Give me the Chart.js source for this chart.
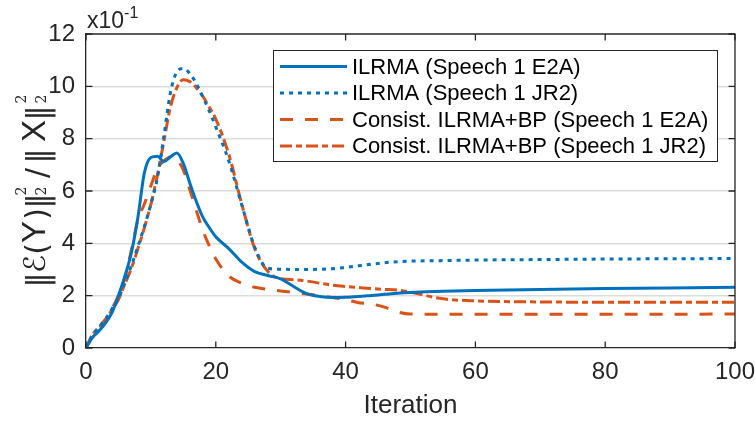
<!DOCTYPE html>
<html>
<head>
<meta charset="utf-8">
<script src="https://cdn.jsdelivr.net/npm/chart.js@4/dist/chart.umd.min.js"></script>
<style>
  html, body { margin: 0; padding: 0; background: #fff; }
  canvas { display: block; }
</style>
</head>
<body>
<canvas id="c" width="755" height="421"></canvas>
<script>
// Iteration index shared by all four curves
const iterations = [0,1,2,3,4,5,6,7,8,9,10,11,12,13,14,15,16,17,18,19,20,
  22,24,26,28,30,32,34,36,38,40,42,44,46,48,50,55,60,70,80,90,100];

// Normalised error (x10^-1)
const ilrmaE2A = [0,0.4,0.65,0.95,1.35,2.0,2.75,3.65,5.0,6.7,7.28,7.33,7.12,7.3,7.45,7.05,6.3,5.6,5.0,4.6,4.25,
  3.8,3.28,2.92,2.77,2.64,2.35,2.08,1.97,1.93,1.94,1.97,2.01,2.05,2.09,2.12,2.17,2.2,2.24,2.27,2.29,2.32];
const ilrmaJR2 = [0,0.5,0.8,1.1,1.5,1.9,2.5,3.15,3.88,4.65,5.5,6.5,8.1,9.75,10.55,10.68,10.49,10.1,9.6,9.05,8.45,
  7.15,5.47,3.85,3.05,3.01,3.0,3.0,3.01,3.03,3.08,3.14,3.2,3.26,3.3,3.32,3.34,3.36,3.38,3.4,3.41,3.42];
const consistE2A = [0,0.5,0.75,1.05,1.5,2.0,2.7,3.75,4.9,5.5,6.2,6.85,7.15,7.3,7.2,6.8,6.05,5.25,4.5,3.9,3.4,
  2.75,2.48,2.32,2.24,2.18,2.12,2.06,2.0,1.93,1.85,1.73,1.68,1.56,1.38,1.3,1.29,1.29,1.29,1.29,1.29,1.3];
const consistJR2 = [0,0.5,0.8,1.1,1.45,1.85,2.45,3.05,3.8,4.6,5.5,6.6,7.9,9.2,9.95,10.25,10.18,9.95,9.62,9.2,8.75,
  7.4,5.5,3.8,2.93,2.65,2.61,2.56,2.48,2.4,2.35,2.31,2.27,2.24,2.21,2.13,1.88,1.8,1.76,1.75,1.75,1.75];

const seriesLabels = [
  'ILRMA (Speech 1 E2A)',
  'ILRMA (Speech 1 JR2)',
  'Consist. ILRMA+BP (Speech 1 E2A)',
  'Consist. ILRMA+BP (Speech 1 JR2)'
];
const xTicks = [0, 20, 40, 60, 80, 100];
const yTicks = [0, 2, 4, 6, 8, 10, 12];

const BLUE = '#0072BD';
const ORANGE = '#D95319';
const INK = '#262626';
const SANS = '"Liberation Sans", Arial, Helvetica, sans-serif';

function pts(vals) { return iterations.map((x, i) => ({ x: x, y: vals[i] })); }

const styles = [
  { color: BLUE, dash: [] },
  { color: BLUE, dash: [4, 5] },
  { color: ORANGE, dash: [13, 12] },
  { color: ORANGE, dash: [12, 4, 6, 4] }
];
const seriesValues = [ilrmaE2A, ilrmaJR2, consistE2A, consistJR2];

const datasets = seriesValues.map((v, i) => ({
  label: seriesLabels[i],
  data: pts(v),
  borderColor: styles[i].color,
  borderWidth: 3,
  borderDash: styles[i].dash,
  borderCapStyle: 'butt',
  pointRadius: 0,
  fill: false,
  cubicInterpolationMode: 'monotone'
}));

// Box, inside tick marks, exponent, y title and legend
const decorations = {
  id: 'decorations',
  afterDatasetsDraw(chart) {
    const ctx = chart.ctx;
    const a = chart.chartArea;
    const xs = chart.scales.x, ys = chart.scales.y;
    ctx.save();
    ctx.strokeStyle = INK;
    ctx.lineWidth = 1.3;
    ctx.beginPath();
    ctx.moveTo(a.left, a.top); ctx.lineTo(a.right, a.top); ctx.lineTo(a.right, a.bottom);
    ctx.stroke();
    const tl = 6.5;
    ctx.beginPath();
    xTicks.forEach(v => {
      const px = xs.getPixelForValue(v);
      ctx.moveTo(px, a.bottom); ctx.lineTo(px, a.bottom - tl);
      ctx.moveTo(px, a.top); ctx.lineTo(px, a.top + tl);
    });
    yTicks.forEach(v => {
      const py = ys.getPixelForValue(v);
      ctx.moveTo(a.left, py); ctx.lineTo(a.left + tl, py);
      ctx.moveTo(a.right, py); ctx.lineTo(a.right - tl, py);
    });
    ctx.stroke();

    // exponent above the y axis
    ctx.fillStyle = INK;
    ctx.textAlign = 'left';
    ctx.textBaseline = 'alphabetic';
    ctx.font = '23px ' + SANS;
    ctx.fillText('x10', a.left + 1, 28);
    const w = ctx.measureText('x10').width;
    ctx.font = '16px ' + SANS;
    ctx.fillText('-1', a.left + 1 + w, 17.5);

    // legend
    const lx = 273, ly = 50, lw = 444, lh = 111;
    ctx.fillStyle = '#fff';
    ctx.fillRect(lx, ly, lw, lh);
    ctx.strokeStyle = INK;
    ctx.lineWidth = 1;
    ctx.strokeRect(lx + 0.5, ly + 0.5, lw, lh);
    const rows = [66.5, 93, 119.5, 146];
    chart.data.datasets.forEach((ds, i) => {
      const y = rows[i];
      ctx.save();
      ctx.strokeStyle = ds.borderColor;
      ctx.lineWidth = 3;
      ctx.setLineDash(ds.borderDash);
      ctx.beginPath();
      ctx.moveTo(280, y); ctx.lineTo(347, y);
      ctx.stroke();
      ctx.restore();
      ctx.fillStyle = '#000';
      ctx.font = '22px ' + SANS;
      ctx.textBaseline = 'middle';
      ctx.textAlign = 'left';
      ctx.fillText(ds.label, 352, y + 1);
    });

    // y axis title: ||E(Y)||^2_2 / ||X||^2_2, read bottom to top
    ctx.translate(45, 285);
    ctx.rotate(-Math.PI / 2);
    ctx.fillStyle = INK;
    ctx.textAlign = 'center';
    ctx.textBaseline = 'alphabetic';
    const BAR = '31px "DejaVu Sans", sans-serif';
    const MAIN = '33px ' + SANS;
    const CAL = '30px "DejaVu Serif", "DejaVu Sans", serif';
    const PAR = '30px "DejaVu Sans", sans-serif';
    const SUP = '14px "DejaVu Serif", serif';
    const glyphs = [
      ['\u2016', BAR, 5, 3], ['\u2130', CAL, 21, 0], ['(', PAR, 36, 2], ['Y', MAIN, 53, 0],
      [')', PAR, 71, 2], ['\u2016', BAR, 84, 3], ['/', PAR, 112, 2],
      ['\u2016', BAR, 129, 3], ['X', MAIN, 154, 0], ['\u2016', BAR, 172, 3]
    ];
    glyphs.forEach(g => { ctx.font = g[1]; ctx.fillText(g[0], g[2], g[3]); });
    ctx.font = SUP;
    [94, 186].forEach(p => {
      ctx.fillText('2', p, -19);
      ctx.fillText('2', p, 1);
    });
    ctx.restore();
  }
};

new Chart(document.getElementById('c'), {
  type: 'line',
  data: { datasets: datasets },
  options: {
    responsive: false,
    animation: false,
    devicePixelRatio: 1,
    layout: { padding: { left: 0, top: 34, right: 20, bottom: 0 } },
    plugins: { legend: { display: false }, tooltip: { enabled: false } },
    scales: {
      x: {
        type: 'linear', min: 0, max: 100,
        afterBuildTicks(s) { s.ticks = xTicks.map(v => ({ value: v })); },
        ticks: { font: { family: SANS, size: 24 }, color: INK, padding: 10, maxRotation: 0 },
        grid: { display: false, drawTicks: false },
        border: { display: true, color: INK, width: 1.3 },
        title: { display: true, text: 'Iteration', font: { family: SANS, size: 26 }, color: INK, padding: 0 },
        afterFit(s) { s.height = 73; s.paddingLeft = 0; s.paddingRight = 0; }
      },
      y: {
        min: 0, max: 12,
        afterBuildTicks(s) { s.ticks = yTicks.map(v => ({ value: v })); },
        ticks: { font: { family: SANS, size: 24 }, color: INK, padding: 11 },
        grid: {
          drawTicks: false, lineWidth: 1.5,
          color: c => (c.tick && (c.tick.value === 0 || c.tick.value === 12)) ? 'rgba(0,0,0,0)' : '#DCDCDC'
        },
        border: { display: true, color: INK, width: 1.3 },
        afterFit(s) { s.width = 86; s.paddingTop = 0; s.paddingBottom = 0; }
      }
    }
  },
  plugins: [decorations]
});
</script>
</body>
</html>
